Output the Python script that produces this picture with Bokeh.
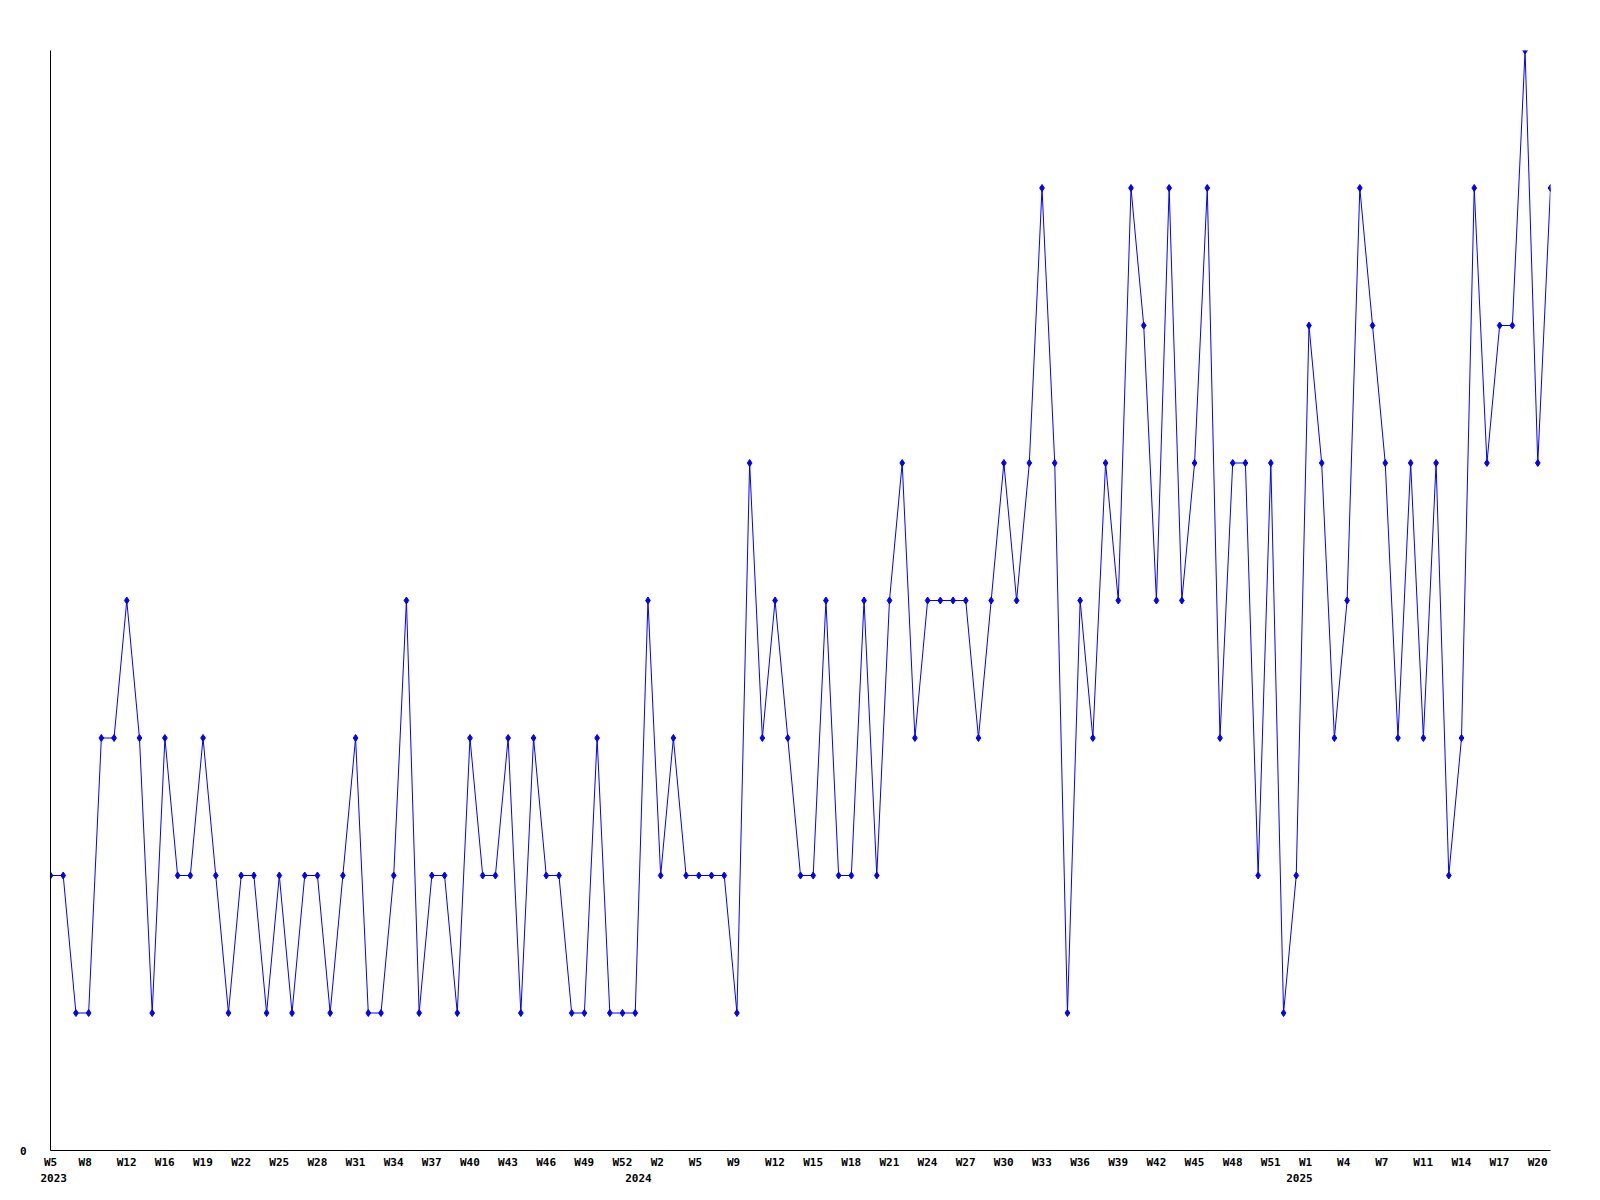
from bokeh.plotting import figure
from bokeh.models import Range1d, FixedTicker, LinearAxis, ColumnDataSource
from bokeh.embed import file_html
from bokeh.resources import INLINE

# ---- data -------------------------------------------------------------
values = [
    2, 2, 1, 1, 3, 3, 4, 3, 1, 3, 2, 2, 3, 2, 1, 2, 2, 1, 2, 1, 2,
    2, 1, 2, 3, 1, 1, 2, 4, 1, 2, 2, 1, 3, 2, 2, 3, 1, 3, 2, 2,
    1, 1, 3, 1, 1, 1, 4, 2, 3, 2, 2, 2, 2, 1, 5, 3, 4, 3, 2, 2,
    4, 2, 2, 4, 2, 4, 5, 3, 4, 4, 4, 4, 3, 4, 5, 4, 5, 7, 5, 1,
    4, 3, 5, 4, 7, 6, 4, 7, 4, 5, 7, 3, 5, 5, 2, 5, 1, 2, 6, 5,
    3, 4, 7, 6, 5, 3, 5, 3, 5, 2, 3, 7, 5, 6, 6, 8, 5, 7,
]
week_labels = [
    "W5", "W8", "W12", "W16", "W19", "W22", "W25", "W28", "W31", "W34",
    "W37", "W40", "W43", "W46", "W49", "W52", "W2", "W5", "W9", "W12",
    "W15", "W18", "W21", "W24", "W27", "W30", "W33", "W36", "W39", "W42",
    "W45", "W48", "W51", "W1", "W4", "W7", "W11", "W14", "W17", "W20",
]
label_every = 3
year_labels = ["2023", "2024", "2025"]
year_start_index = [0, 46, 98]
y_max = 8

# ---- layout / style ---------------------------------------------------
FRAME_W = 1500
FRAME_H = 1100
B_LEFT, B_TOP, B_RIGHT, B_BOTTOM = 50, 50, 34, 42
CHAR_W = 6.6          # approx advance of the mono font in px
LABEL_SHIFT = -10     # labels start 10px left of their point

n = len(values)
xs = list(range(n))
px_to_data = (n - 1) / FRAME_W


def tick_pos(idx, text):
    v = idx + (LABEL_SHIFT + CHAR_W * len(text) / 2.0) * px_to_data
    return round(max(v, 0.0), 6)


week_ticks = [tick_pos(k * label_every, t) for k, t in enumerate(week_labels)]
year_ticks = [tick_pos(i, t) for i, t in zip(year_start_index, year_labels)]

src = ColumnDataSource(dict(x=xs, y=values))

p = figure(
    width=FRAME_W + B_LEFT + B_RIGHT,
    height=FRAME_H + B_TOP + B_BOTTOM,
    x_range=Range1d(0, n - 1),
    y_range=Range1d(0, y_max),
    x_axis_type=None,
    y_axis_type=None,
    output_backend="svg",
    toolbar_location=None,
    min_border_left=B_LEFT,
    min_border_right=B_RIGHT,
    min_border_top=B_TOP,
    min_border_bottom=B_BOTTOM,
)
p.outline_line_color = None
p.background_fill_color = "white"
p.border_fill_color = "white"

FONT = "DejaVu Sans Mono"


def style_axis(ax, standoff, line=True):
    ax.axis_line_color = "black" if line else None
    ax.axis_line_width = 1
    ax.major_tick_line_color = None
    ax.minor_tick_line_color = None
    ax.major_tick_out = 0
    ax.major_tick_in = 0
    ax.major_label_standoff = standoff
    ax.major_label_text_font = FONT
    ax.major_label_text_font_style = "bold"
    ax.major_label_text_font_size = "11px"
    ax.major_label_text_color = "black"


xaxis = LinearAxis(ticker=FixedTicker(ticks=week_ticks),
                   major_label_overrides={t: l for t, l in zip(week_ticks, week_labels)})
style_axis(xaxis, 5)
p.add_layout(xaxis, "below")

yearaxis = LinearAxis(ticker=FixedTicker(ticks=year_ticks),
                      major_label_overrides={t: l for t, l in zip(year_ticks, year_labels)})
style_axis(yearaxis, 2, line=False)
p.add_layout(yearaxis, "below")

yaxis = LinearAxis(ticker=FixedTicker(ticks=[0]), major_label_overrides={0: "0"})
style_axis(yaxis, 24)
p.add_layout(yaxis, "left")

p.line("x", "y", source=src, line_color="#0000ff", line_width=1)
p.scatter("x", "y", source=src, marker="diamond", size=7,
          fill_color="#0000ff", line_color="#0000ff")

open("out.html", "w").write(file_html(p, INLINE))
